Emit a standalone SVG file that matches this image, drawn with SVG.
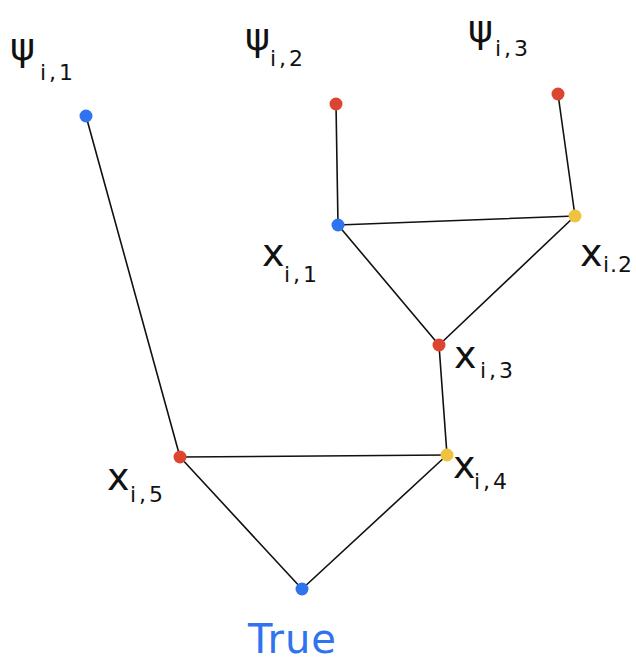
<svg xmlns="http://www.w3.org/2000/svg" width="636" height="662" viewBox="0 0 636 662">
<style>
.e{stroke:#111;stroke-width:1.6;fill:none;stroke-linecap:round}
.b{fill:#2f74ee}.r{fill:#dc4530}.y{fill:#efc33f}
.m{font-family:"DejaVu Sans","Noto Sans",sans-serif;fill:#111}
.big{font-size:38px}.sub{font-size:22px;letter-spacing:3px}
</style>
<rect width="636" height="662" fill="#fff"/>
<g id="connectors">
<line class="e" x1="86" y1="116" x2="180" y2="457"/>
<line class="e" x1="336" y1="104" x2="338" y2="225"/>
<line class="e" x1="558" y1="94" x2="575" y2="216"/>
<line class="e" x1="338" y1="225" x2="575" y2="216"/>
<line class="e" x1="338" y1="225" x2="439" y2="345"/>
<line class="e" x1="575" y1="216" x2="439" y2="345"/>
<line class="e" x1="439" y1="345" x2="447" y2="455"/>
<line class="e" x1="180" y1="457" x2="447" y2="455"/>
<line class="e" x1="180" y1="457" x2="302" y2="589"/>
<line class="e" x1="447" y1="455" x2="302" y2="589"/>
</g>
<g id="psi1"><circle class="b" cx="86" cy="116" r="6.5"/><text class="m big" x="10" y="60">ψ</text><text class="m sub" x="40" y="80">i,1</text></g>
<g id="psi2"><circle class="r" cx="336" cy="104" r="6.5"/><text class="m big" x="245" y="50">ψ</text><text class="m sub" x="270" y="66">i,2</text></g>
<g id="psi3"><circle class="r" cx="558" cy="94" r="6.5"/><text class="m big" x="468" y="42">ψ</text><text class="m sub" x="495" y="56">i,3</text></g>
<g id="x1"><circle class="b" cx="338" cy="225" r="6.5"/><text class="m big" x="262" y="266">x</text><text class="m sub" x="284" y="282">i,1</text></g>
<g id="x2"><circle class="y" cx="575" cy="216" r="6.5"/><text class="m big" x="580" y="266">x</text><text class="m sub" x="603" y="272" style="letter-spacing:1px">i.2</text></g>
<g id="x3"><circle class="r" cx="439" cy="345" r="6.5"/><text class="m big" x="454" y="368">x</text><text class="m sub" x="480" y="378">i,3</text></g>
<g id="x4"><circle class="y" cx="447" cy="455" r="6.5"/><text class="m big" x="453" y="478">x</text><text class="m sub" x="474" y="489">i,4</text></g>
<g id="x5"><circle class="r" cx="180" cy="457" r="6.5"/><text class="m big" x="107" y="490">x</text><text class="m sub" x="130" y="502">i,5</text></g>
<g id="true"><circle class="b" cx="302" cy="589" r="6.5"/><text x="248" y="653" style="font-family:'DejaVu Sans',sans-serif;font-size:40px;letter-spacing:1px;fill:#2f74ee">True</text></g>
</svg>
